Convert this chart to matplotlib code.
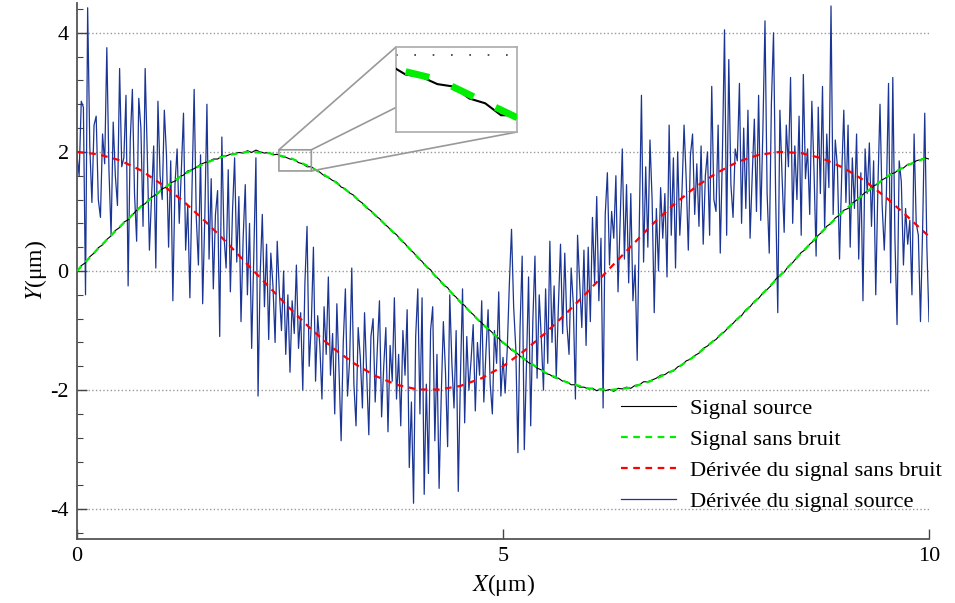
import matplotlib
matplotlib.use("Agg")
import matplotlib.pyplot as plt
from matplotlib.ticker import MultipleLocator
import numpy as np

plt.rcParams['font.family'] = ['Liberation Serif', 'DejaVu Serif']
plt.rcParams['mathtext.fontset'] = 'stix'
plt.rcParams['axes.unicode_minus'] = False

# smooth curves, read every 0.25 um
x_smooth = np.arange(0, 10.001, 0.25)
sans_bruit = [0.00, 0.38, 0.74, 1.08, 1.37, 1.62, 1.81, 1.94, 2.00, 1.98, 1.90,
              1.74, 1.53, 1.26, 0.94, 0.60, 0.23, -0.15, -0.52, -0.88, -1.20,
              -1.48, -1.71, -1.87, -1.97, -2.00, -1.96, -1.84, -1.67, -1.43, -1.14,
              -0.81, -0.45, -0.08, 0.30, 0.67, 1.01, 1.31, 1.58, 1.78, 1.92]
derivee_sans_bruit = [2.00, 1.96, 1.86, 1.69, 1.45, 1.17, 0.84, 0.49, 0.11, -0.26, -0.63,
                      -0.98, -1.29, -1.55, -1.76, -1.91, -1.99, -1.99, -1.93, -1.80, -1.60,
                      -1.34, -1.04, -0.70, -0.34, 0.04, 0.41, 0.78, 1.11, 1.40, 1.64,
                      1.83, 1.95, 2.00, 1.98, 1.89, 1.73, 1.51, 1.23, 0.91, 0.58]

# source signal, every 0.05 um
x_source = np.arange(0, 10.001, 0.05)
signal_source = [
    0.00, 0.09, 0.14, 0.24, 0.30, 0.39, 0.44, 0.53, 0.59, 0.68,
    0.73, 0.82, 0.86, 0.94, 1.02, 1.09, 1.13, 1.21, 1.26, 1.30,
    1.38, 1.41, 1.48, 1.51, 1.58, 1.61, 1.68, 1.70, 1.74, 1.79,
    1.82, 1.84, 1.88, 1.88, 1.93, 1.93, 1.96, 1.97, 1.99, 1.98,
    2.02, 1.99, 2.03, 2.00, 1.98, 1.99, 1.95, 1.96, 1.92, 1.91,
    1.88, 1.87, 1.82, 1.80, 1.75, 1.75, 1.70, 1.66, 1.60, 1.57,
    1.52, 1.49, 1.41, 1.38, 1.31, 1.27, 1.19, 1.14, 1.06, 1.01,
    0.93, 0.88, 0.80, 0.74, 0.66, 0.61, 0.52, 0.46, 0.37, 0.31,
    0.22, 0.16, 0.07, 0.02, -0.08, -0.14, -0.23, -0.28, -0.38, -0.44,
    -0.53, -0.58, -0.67, -0.73, -0.81, -0.87, -0.95, -1.00, -1.07, -1.13,
    -1.21, -1.25, -1.33, -1.36, -1.43, -1.47, -1.54, -1.57, -1.63, -1.66,
    -1.72, -1.74, -1.79, -1.80, -1.85, -1.86, -1.91, -1.91, -1.95, -1.95,
    -1.98, -1.97, -2.01, -1.98, -2.01, -1.99, -2.02, -1.97, -1.98, -1.95,
    -1.97, -1.92, -1.91, -1.86, -1.86, -1.83, -1.80, -1.75, -1.74, -1.69,
    -1.68, -1.61, -1.58, -1.51, -1.48, -1.42, -1.38, -1.30, -1.26, -1.19,
    -1.15, -1.07, -1.02, -0.94, -0.88, -0.80, -0.75, -0.65, -0.60, -0.51,
    -0.46, -0.37, -0.31, -0.24, -0.14, -0.07, -0.02, 0.08, 0.14, 0.23,
    0.31, 0.36, 0.45, 0.51, 0.60, 0.66, 0.75, 0.80, 0.89, 0.94,
    1.02, 1.05, 1.14, 1.19, 1.25, 1.32, 1.35, 1.43, 1.46, 1.53,
    1.57, 1.63, 1.65, 1.71, 1.73, 1.79, 1.80, 1.85, 1.87, 1.90,
    1.88]

# noisy derivative, every 0.025 um
x_noisy = np.arange(0, 10.0001, 0.025)
derivee_source = [
    1.95, 1.60, 2.85, 2.75, -0.40, 4.42, 2.10, 1.15, 2.45, 2.60, 1.20, 0.90, 2.30, 1.80, 3.75, 1.70, 0.60, 2.50, 1.60, 1.10,
    3.40, 1.75, 1.90, 2.95, -0.25, 2.20, 3.05, 1.30, 0.50, 2.90, 2.40, 0.75, 3.40, 1.95, 0.35, 1.25, 2.10, 0.05, 2.85, 1.60,
    1.20, 2.70, 1.95, 0.40, 1.85, -0.50, 1.45, 2.05, 0.80, 1.70, 2.65, 0.35, 1.10, -0.45, 1.40, 3.05, 0.90, 0.10, 1.95, -0.55,
    0.90, 2.80, 0.20, 1.55, -0.30, 0.95, 1.35, -1.10, 2.25, 0.60, 0.05, 1.70, -0.35, 1.00, 1.90, 0.15, 1.25, -0.85, 0.55, 1.45,
    -0.40, 0.80, -1.30, 0.25, 1.90, -2.10, -0.05, 0.95, -0.60, 0.45, -1.15, 0.30, -0.25, -1.20, 0.50, -0.35, -1.00, 0.00, -1.40, -0.40,
    -1.70, -0.50, -1.05, 0.10, -1.30, -0.70, -2.00, -0.20, 0.75, -1.60, -0.90, 0.40, -1.85, -0.75, -1.25, -2.15, -0.60, -1.40, -0.10, -1.75,
    -1.05, -2.40, -0.55, -1.65, -2.85, -1.20, -0.30, -2.10, -1.50, 0.05, -1.90, -2.60, -0.95, -1.45, -2.30, -0.70, -1.70, -2.75, -1.10, -0.80,
    -2.20, -1.30, -0.50, -2.45, -1.60, -0.95, -2.70, -1.25, -1.85, -0.45, -2.15, -1.40, -2.60, -1.00, -1.75, -0.65, -3.30, -2.20, -3.90, -1.10,
    -0.30, -2.40, -0.45, -3.75, -1.90, -3.40, -1.00, -0.60, -2.85, -1.40, -3.65, -2.10, -0.85, -1.70, -2.95, -0.40, -1.55, -2.30, -1.00, -3.70,
    -1.80, -0.30, -2.55, -1.10, -2.00, -1.50, -0.90, -2.35, -1.20, -1.75, -0.50, -2.20, -1.35, -0.65, -1.90, -2.40, -1.00, -1.55, -0.35, -2.10,
    -1.45, -2.05, -1.30, -0.20, 0.70, -0.60, -1.30, -3.05, -0.95, 0.25, -3.00, -1.60, -0.10, -2.60, -0.85, 0.25, -1.80, -0.40, -1.15, -2.00,
    -0.30, -1.55, 0.50, -1.20, -0.25, -1.80, -0.60, 0.45, -1.05, 0.30, -0.90, -1.40, 0.05, -0.55, -2.15, 0.60, -0.20, -0.95, 0.35, -1.25,
    0.40, -0.85, 0.90, -0.20, 1.25, -0.50, 0.55, -2.30, 0.95, 1.65, 0.10, 1.00, 0.55, 1.60, -0.35, 0.85, 2.05, 0.20, 1.45, -0.20,
    1.30, -0.50, 0.10, -1.50, 0.80, 2.95, 0.15, 1.75, 0.40, 2.20, 1.20, -0.70, 1.05, 0.00, 1.40, 0.55, 1.30, -0.10, 2.45, 0.60,
    1.90, 0.05, 2.00, 0.60, 1.30, 2.45, 1.55, 0.35, 1.95, 2.30, 0.95, 1.80, 0.75, 2.10, 0.45, 1.60, 2.00, 0.60, 3.10, 1.20,
    1.00, 2.45, 0.30, 1.95, 4.05, 0.60, 3.55, 1.45, 0.90, 2.05, 1.85, 3.15, 0.80, 2.40, 1.05, 2.70, 0.55, 1.60, 2.55, 1.00,
    2.95, 0.85, 2.35, 4.20, 1.30, 0.30, 2.80, 4.00, 1.25, -0.70, 2.70, 1.60, 0.65, 2.45, 1.75, 3.25, 0.80, 2.10, 1.20, 2.60,
    0.60, 3.30, 1.55, 2.05, 0.95, 2.85, 1.70, 0.25, 2.75, 1.30, 3.10, 0.70, 2.30, 1.40, 4.45, 0.95, 2.20, 1.75, 0.20, 1.60,
    2.70, 1.15, 2.45, 0.40, 1.90, 1.05, 2.30, 0.20, 1.65, -0.50, 2.05, 1.30, 2.15, 0.75, 1.85, -0.40, 1.40, 2.80, 1.10, 0.35,
    1.30, 3.15, -0.20, 3.25, 0.55, -0.90, 1.85, 1.50, 0.10, 1.05, 0.45, 0.85, -0.40, 2.30, 0.80, 0.60, -0.85, 0.70, 2.65, 0.40,
    -0.85]

blue = '#1b3594'

fig = plt.figure(figsize=(9.55, 6.03), dpi=100)
ax = fig.add_axes([77/955, 1 - 539/603, 852/955, 536/603])

l4, = ax.plot(x_noisy, derivee_source, color=blue, lw=0.9, zorder=2)
l1, = ax.plot(x_source, signal_source, color='black', lw=0.8, zorder=3)
l2, = ax.plot(x_smooth, sans_bruit, color='#00ee00', lw=1.6, ls=(0, (3, 2.5)), zorder=4)
l3, = ax.plot(x_smooth, derivee_sans_bruit, color='#ff0000', lw=1.6, ls=(0, (3, 2.5)), zorder=4)

ax.set_xlim(0, 10)
ax.set_ylim(-4.5, 4.5)
ax.set_xticks([0, 5, 10])
ax.set_yticks([-4, -2, 0, 2, 4])
ax.yaxis.set_minor_locator(MultipleLocator(0.4))
ax.tick_params(direction='in', length=7, width=1.0, color='#444444', labelsize=16, pad=6)
ax.tick_params(which='minor', direction='in', length=4, width=0.8, color='#444444')
ax.yaxis.grid(True, ls=':', color='#999999', lw=1.0)
for s in ['top', 'right']:
    ax.spines[s].set_visible(False)
for s in ['left', 'bottom']:
    ax.spines[s].set_color('#555555')
    ax.spines[s].set_linewidth(1.3)

ax.set_xlabel('$X$(μm)', fontsize=17, labelpad=4)
ax.set_ylabel('$Y$(μm)', fontsize=17, labelpad=1)

fig.legend([l1, l2, l3, l4],
           ['Signal source', 'Signal sans bruit', 'Dérivée du signal sans bruit',
            'Dérivée du signal source'],
           loc='upper left', bbox_to_anchor=(601/955, 1 - 378/603), frameon=False,
           fontsize=16.2, handlelength=2.45, labelspacing=0.45, handletextpad=0.6)

# zoomed inset
axins = fig.add_axes([396/955, 1 - 132/603, 121/955, 85/603])
axins.plot(x_source, signal_source, color='black', lw=1.5, zorder=3)
axins.plot(x_smooth, sans_bruit, color='#00ee00', lw=5, ls=(0, (3.5, 3.5)), zorder=4)
axins.set_xlim(2.37, 2.75)
axins.set_ylim(1.68, 2.035)
axins.set_xticks([])
axins.set_yticks([2])
axins.tick_params(left=False, labelleft=False)
axins.yaxis.grid(True, ls=(0, (1, 10)), color='#333333', lw=1.2)
for s in axins.spines.values():
    s.set_color('#aaaaaa')
    s.set_linewidth(1.2)

ind = ax.indicate_inset_zoom(axins, edgecolor='#999999', linewidth=1.2, alpha=1)
cons = ind.connectors
cons[3].set_visible(True)

fig.savefig('out.png', dpi=100)
